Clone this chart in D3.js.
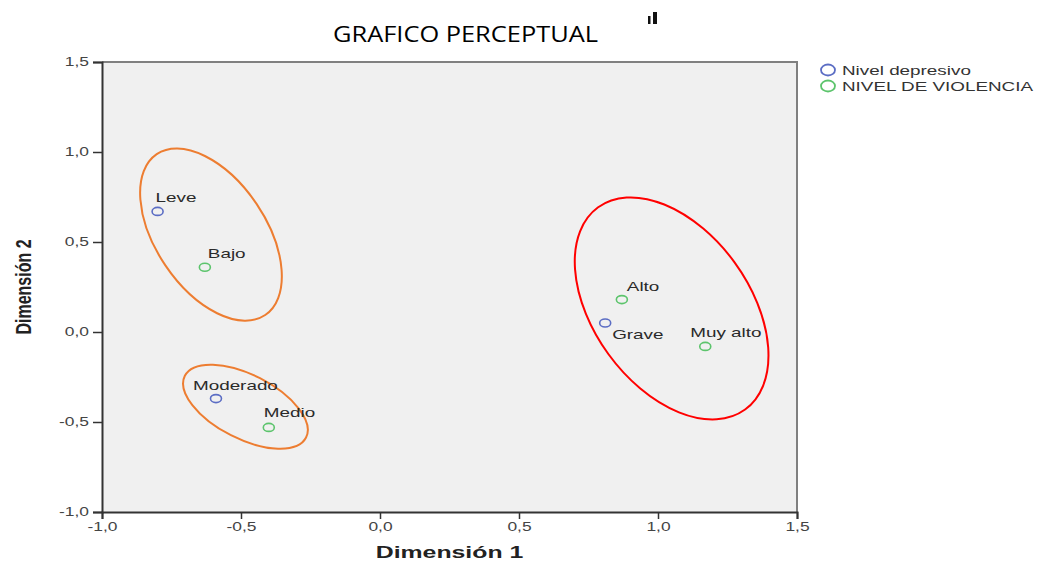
<!DOCTYPE html>
<html>
<head>
<meta charset="utf-8">
<script src="https://cdn.jsdelivr.net/npm/d3@7"></script>
<style>
  body { margin: 0; background: #fff; }
  svg { display: block; }
</style>
</head>
<body>
<svg width="1037" height="565"></svg>
<script>
// chart data
var pointNames = ["Leve", "Bajo", "Moderado", "Medio", "Alto", "Grave", "Muy alto"];
var pointGroup = ["dep", "vio", "dep", "vio", "vio", "dep", "vio"];
var dim1 = [-0.80, -0.63, -0.59, -0.40, 0.87, 0.81, 1.17];
var dim2 = [0.67, 0.36, -0.37, -0.53, 0.18, 0.05, -0.08];

var tickValues = [-1.0, -0.5, 0.0, 0.5, 1.0, 1.5];
var tickLabels = ["-1,0", "-0,5", "0,0", "0,5", "1,0", "1,5"];

var legendNames = ["Nivel depresivo", "NIVEL DE VIOLENCIA"];
var legendKeys = ["dep", "vio"];

// hand drawn ellipses (centre in data units)
var ringX = [-0.608, -0.484, 1.049];
var ringY = [0.541, -0.415, 0.131];

// layout / styling
var ringRx = [97, 68, 125];
var ringRy = [55, 32, 78];
var ringAngle = [56, 27, 54];
var ringColor = ["#ED7D31", "#ED7D31", "#FF0000"];
var labelDx = [-2, 3, -23, -5, 5, 7, -15];
var labelDy = [-9, -9, -9, -10, -9, 16, -9];
var colors = { dep: "#5B6DC4", vio: "#5CC46C" };
var SX = 1.45; // the spss picture is stretched sideways

var svg = d3.select("svg");
var font = "'Liberation Sans', Arial, sans-serif";

var x = d3.scaleLinear().domain([-1, 1.5]).range([102, 797]);
var y = d3.scaleLinear().domain([-1, 1.5]).range([512, 62]);

function stretch(sel, f) {
   sel.each(function() {
      var len = this.getComputedTextLength();
      d3.select(this)
         .attr("textLength", len * f)
         .attr("lengthAdjust", "spacingAndGlyphs");
   });
}

// plot area
svg.append("rect")
   .attr("x", x(-1)).attr("y", y(1.5))
   .attr("width", x(1.5) - x(-1)).attr("height", y(-1) - y(1.5))
   .attr("fill", "#F0F0F0");

svg.append("path")
   .attr("d", "M" + x(-1) + "," + y(1.5) + "H" + x(1.5) + "V" + y(-1))
   .attr("fill", "none").attr("stroke", "#808080").attr("stroke-width", 2);

// axes
var fmt = function(d) { return tickLabels[tickValues.indexOf(d)]; };

var gy = svg.append("g")
   .attr("transform", "translate(" + x(-1) + ",0)")
   .call(d3.axisLeft(y).tickValues(tickValues).tickFormat(fmt).tickSize(9).tickPadding(4));

var gx = svg.append("g")
   .attr("transform", "translate(0," + y(-1) + ")")
   .call(d3.axisBottom(x).tickValues(tickValues).tickFormat(fmt).tickSize(7).tickPadding(3));

[gx, gy].forEach(function(g) {
   g.select(".domain").attr("stroke", "#333").attr("stroke-width", 2);
   g.selectAll(".tick line").attr("stroke", "#333").attr("stroke-width", 1.5);
   g.selectAll(".tick text")
      .attr("font-family", font).attr("font-size", 12).attr("fill", "#444");
   stretch(g.selectAll(".tick text"), SX);
});

// axis titles
var xt = svg.append("text")
   .attr("x", (x(-1) + x(1.5)) / 2).attr("y", 558)
   .attr("text-anchor", "middle")
   .attr("font-family", font).attr("font-size", 16).attr("font-weight", "bold")
   .attr("fill", "#222")
   .text("Dimensión 1");
stretch(xt, 1.55);

svg.append("text")
   .attr("transform", "translate(31," + (y(-1) + y(1.5)) / 2 + ") rotate(-90) scale(1,1.35)")
   .attr("text-anchor", "middle")
   .attr("font-family", font).attr("font-size", 16).attr("font-weight", "bold")
   .attr("fill", "#222")
   .text("Dimensión 2");

// rings
svg.selectAll("ellipse.ring")
   .data(ringX)
   .enter()
   .append("ellipse")
   .attr("class", "ring")
   .attr("transform", function(d, i) {
      return "translate(" + x(d) + "," + y(ringY[i]) + ") rotate(" + ringAngle[i] + ")";
   })
   .attr("rx", function(d, i) { return ringRx[i]; })
   .attr("ry", function(d, i) { return ringRy[i]; })
   .attr("fill", "none")
   .attr("stroke", function(d, i) { return ringColor[i]; })
   .attr("stroke-width", 2);

// points
svg.selectAll("ellipse.pt")
   .data(dim1)
   .enter()
   .append("ellipse")
   .attr("class", "pt")
   .attr("cx", function(d) { return x(d); })
   .attr("cy", function(d, i) { return y(dim2[i]); })
   .attr("rx", 5.5)
   .attr("ry", 4)
   .attr("fill", "none")
   .attr("stroke", function(d, i) { return colors[pointGroup[i]]; })
   .attr("stroke-width", 1.6);

var labels = svg.selectAll("text.lbl")
   .data(pointNames)
   .enter()
   .append("text")
   .attr("class", "lbl")
   .attr("x", function(d, i) { return x(dim1[i]) + labelDx[i]; })
   .attr("y", function(d, i) { return y(dim2[i]) + labelDy[i]; })
   .attr("font-family", font).attr("font-size", 13)
   .attr("fill", "#2a2a2a")
   .text(function(d) { return d; });
stretch(labels, SX);

// legend
var leg = svg.selectAll("g.leg")
   .data(legendNames)
   .enter()
   .append("g")
   .attr("class", "leg")
   .attr("transform", function(d, i) { return "translate(828," + (70 + i * 16) + ")"; });

leg.append("ellipse")
   .attr("rx", 7).attr("ry", 5.5)
   .attr("fill", "none")
   .attr("stroke", function(d, i) { return colors[legendKeys[i]]; })
   .attr("stroke-width", 1.8);

var legText = leg.append("text")
   .attr("x", 14).attr("y", 5)
   .attr("font-family", font).attr("font-size", 13)
   .attr("fill", "#333")
   .text(function(d) { return d; });
stretch(legText, 1.45);

// title
svg.append("text")
   .attr("x", 333).attr("y", 42)
   .attr("font-family", "'Open Sans', sans-serif").attr("font-size", 22)
   .attr("fill", "#000")
   .attr("textLength", 265).attr("lengthAdjust", "spacingAndGlyphs")
   .text("GRAFICO PERCEPTUAL");

// little chart glyph next to the title
svg.append("rect").attr("x", 648).attr("y", 16).attr("width", 2.5).attr("height", 8).attr("fill", "#111");
svg.append("rect").attr("x", 653).attr("y", 12).attr("width", 4).attr("height", 12).attr("fill", "#111");
</script>
</body>
</html>
